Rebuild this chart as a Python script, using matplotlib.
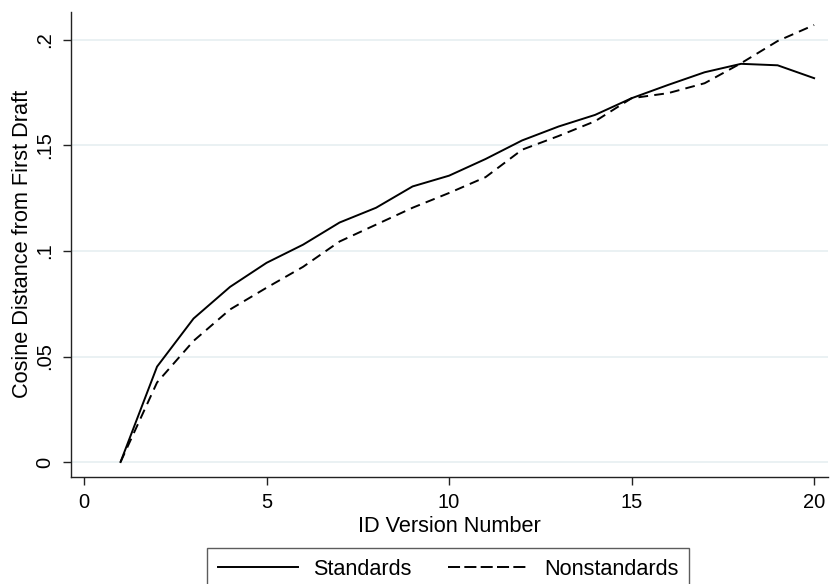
import matplotlib
matplotlib.use("Agg")
import matplotlib.pyplot as plt
from matplotlib.lines import Line2D

versions = list(range(1, 21))
standards = [0.0, 0.0452, 0.068, 0.083, 0.0944, 0.103, 0.1135, 0.1205, 0.1306, 0.1357,
             0.1436, 0.1524, 0.159, 0.1645, 0.1724, 0.1787, 0.1847, 0.1887, 0.188, 0.1819]
nonstandards = [0.0, 0.0377, 0.0574, 0.0723, 0.0826, 0.0925, 0.1045, 0.1125, 0.1205, 0.1275,
                0.135, 0.148, 0.1545, 0.1615, 0.1724, 0.1748, 0.1795, 0.189, 0.1995, 0.2071]
xticks = [0, 5, 10, 15, 20]
yticks = [0, 0.05, 0.1, 0.15, 0.2]
ytick_labels = ["0", ".05", ".1", ".15", ".2"]

plt.rcParams['font.family'] = ['Liberation Sans', 'DejaVu Sans']

fig = plt.figure(figsize=(8.3, 5.84), dpi=100)
ax = fig.add_axes([71/830, 1-476.7/584, (828-71)/830, (476.7-11.7)/584])

ax.plot(versions, standards, color='black', lw=1.4, solid_joinstyle='miter', label='Standards')
ax.plot(versions, nonstandards, color='black', lw=1.4, linestyle=(0, (5, 3.2)), label='Nonstandards')

ax.set_xlim(-0.357, 20.38)
ax.set_ylim(-0.00695, 0.2134)
ax.set_xticks(xticks)
ax.set_xticklabels([str(t) for t in xticks])
ax.set_yticks(yticks)
ax.set_yticklabels(ytick_labels, rotation=90, va='center')
for y in yticks:
    ax.axhline(y, color='#e6eff1', lw=1.2, zorder=0)

for s in ['top', 'right']:
    ax.spines[s].set_visible(False)
for s in ['left', 'bottom']:
    ax.spines[s].set_color('#222222')
    ax.spines[s].set_linewidth(1.0)
ax.tick_params(direction='out', length=5.8, width=1.0, color='#222222', labelsize=14.5, pad=6)

ax.set_xlabel('ID Version Number', fontsize=15.7, labelpad=3)
ax.set_ylabel('Cosine Distance from First Draft', fontsize=15.7, labelpad=2)

handles = [Line2D([], [], color='black', lw=1.4),
           Line2D([], [], color='black', lw=1.4, linestyle=(0, (6.2, 2.2)))]
leg = fig.legend(handles, ['Standards', 'Nonstandards'], ncol=2, loc='upper center',
                 bbox_to_anchor=(448/830, 1-548/584), borderaxespad=0, frameon=True, fancybox=False,
                 fontsize=15.6, handlelength=3.7, columnspacing=1.7, borderpad=0.5,
                 edgecolor='#333333', handletextpad=0.7)
leg.get_frame().set_linewidth(1.0)

fig.savefig('out.png', dpi=100)
